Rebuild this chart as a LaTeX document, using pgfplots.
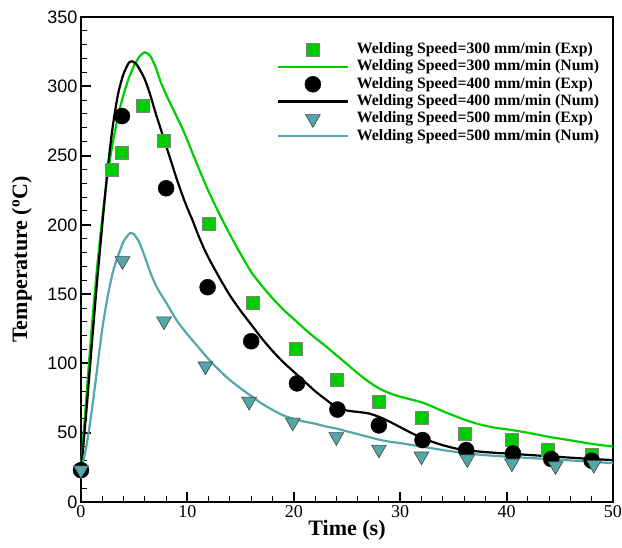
\documentclass[border=0pt]{standalone}
\usepackage{pgfplots}
\pgfplotsset{compat=1.18}
\usepackage{fontspec}
\setmainfont{Liberation Serif}
\newfontfamily\arialf{Liberation Sans}
\definecolor{mygreen}{RGB}{0,204,0}
\definecolor{myteal}{RGB}{82,168,168}
\begin{document}
\begin{tikzpicture}
\useasboundingbox (-81pt,-45pt) rectangle (541pt,502pt);
\begin{axis}[
 at={(0pt,0pt)}, anchor=south west,
 scale only axis, width=532pt, height=485pt,
 xmin=0, xmax=50, ymin=0, ymax=350,
 xtick={0,10,...,50}, ytick={0,50,...,350},
 minor x tick num=4, minor y tick num=4,
 xtick pos=bottom, ytick pos=left, tick align=inside,
 major tick length=10pt, minor tick length=6pt,
 every tick/.style={black},
 every major tick/.append style={line width=2pt},
 every minor tick/.append style={line width=1pt},
 axis line style={line width=2.2pt},
 /pgf/number format/assume math mode=true,
 xticklabel style={font=\fontsize{18}{20}\selectfont},
 yticklabel style={font=\arialf\fontsize{18}{20}\selectfont},
 xlabel={Time (s)}, ylabel={Temperature (\textsuperscript{o}C)},
 label style={font=\bfseries\fontsize{22}{24}\selectfont},
 xlabel style={at={(axis description cs:0.5,-0.058)}, anchor=center},
 ylabel style={at={(axis description cs:-0.111,0.5)}, anchor=center},
 clip=false,
 legend image code/.code={\draw[mark repeat=2,mark phase=2,#1] plot coordinates {(0pt,0pt)(35pt,0pt)(70pt,0pt)};},
 legend cell align=left,
 legend style={draw=none, fill=none, at={(0.362,0.955)}, anchor=north west,
   font=\bfseries\fontsize{15.8}{17}\selectfont, row sep=0pt,
   nodes={inner ysep=1.15pt, text height=11.5pt, text depth=3.5pt},
   /tikz/every odd column/.append style={column sep=6pt}},
]
% 300 mm/min Exp
\addplot[only marks, mark=square*, mark size=6.5pt, mark options={fill=mygreen, draw=gray, line width=0.6pt}] coordinates {
(2.9,240)(3.85,252)(5.85,286)(7.8,261)(12,200.5)(16.1,144)(20.2,110.5)(24,88)(28,72.5)(32,60.5)(36.1,49)(40.5,44.7)(43.9,38)(48,33.9)};
\addlegendentry{Welding Speed=300 mm/min (Exp)}
% 300 Num
\addplot[mygreen, line width=2.2pt, smooth, tension=0.4] coordinates {
(0,25)(0.5,75)(1,125)(1.5,168)(2,205)(2.5,236)(3,260)(3.5,279)(4,294)(4.5,306)(5,315)(5.5,321.5)(6,324.5)(6.5,322)(7,314)(7.5,303)(8,294)(8.5,286)(9,278)(9.5,270)(10,261)(11,242)(12,224)(13,208)(14,193)(15,179)(16,166)(17,156)(18,147)(19,139)(20,132)(21,125)(22,118.5)(23,112.5)(24,106)(25,99.5)(26,93)(27,87)(28,82)(29,78.5)(30,76)(31,74)(32,72)(33,69)(34,65.5)(35,62.5)(36,59.5)(37,57)(38,55)(39,53.5)(40,52.5)(42,50)(44,47)(46,44.5)(48,42)(50,40)};
\addlegendentry{Welding Speed=300 mm/min (Num)}
% 400 Exp
\addplot[only marks, mark=*, mark size=8pt, black] coordinates {
(0,23)(3.85,278.5)(8,226.4)(11.9,155)(16,116)(20.3,85.6)(24.1,66.7)(28,55.3)(32.1,44.7)(36.2,37.5)(40.6,35)(44.2,31)(48,29.8)};
\addlegendentry{Welding Speed=400 mm/min (Exp)}
% 400 Num
\addplot[black, line width=2.2pt, smooth, tension=0.4] coordinates {
(0,22)(0.5,65)(1,112)(1.5,158)(2,200)(2.5,240)(3,272)(3.5,295)(4,309)(4.5,317)(4.8,318)(5.2,316)(5.6,311)(6,305)(6.5,294)(7,281)(7.5,269)(8,257)(8.5,245)(9,233)(9.5,222)(10,212)(10.5,203)(11,193)(11.5,184)(12,176)(13,162)(14,149)(15,138)(16,128)(17,118)(18,109)(19,101)(20,94)(21,87)(22,80)(23,74)(24,68.5)(25,66)(26,65)(27,64)(28,61.5)(29,58)(30,54)(31,50)(32,46.5)(33,43.5)(34,41)(35,39)(36,37.5)(38,36)(40,35)(42,34)(44,33)(46,32)(48,31)(50,30.3)};
\addlegendentry{Welding Speed=400 mm/min (Num)}
% 500 Exp
\addplot[only marks, mark=triangle*, mark size=8.5pt, mark options={rotate=180, fill=myteal, draw=darkgray, line width=0.6pt}] coordinates {
(0,23)(3.9,174)(7.8,130.5)(11.7,98)(15.8,72.5)(19.9,57.5)(24,47)(28,38)(32,33)(36.3,31)(40.5,28)(44.6,26)(48.2,27)};
\addlegendentry{Welding Speed=500 mm/min (Exp)}
% 500 Num
\addplot[myteal, line width=2.2pt, smooth, tension=0.4] coordinates {
(0,22)(0.5,40)(1,65)(1.5,95)(2,125)(2.5,148)(3,166)(3.5,178)(4,188)(4.6,194)(5,193)(5.5,187)(6,177)(6.5,166)(7,157)(7.5,150)(8,144)(9,131)(10,121)(11,112)(12,103)(13,95)(14,88)(15,82)(16,76.5)(17,71)(18,66.5)(19,62.5)(20,60)(21,58)(22,56.5)(23,54.5)(24,53)(25,51)(26,49)(27,47)(28,45)(29,43.5)(30,42.5)(32,40)(34,37.5)(36,35.3)(38,33.8)(40,32.7)(42,31.8)(44,31)(46,30)(48,29)(50,28)};
\addlegendentry{Welding Speed=500 mm/min (Num)}
\end{axis}
\end{tikzpicture}
\end{document}
